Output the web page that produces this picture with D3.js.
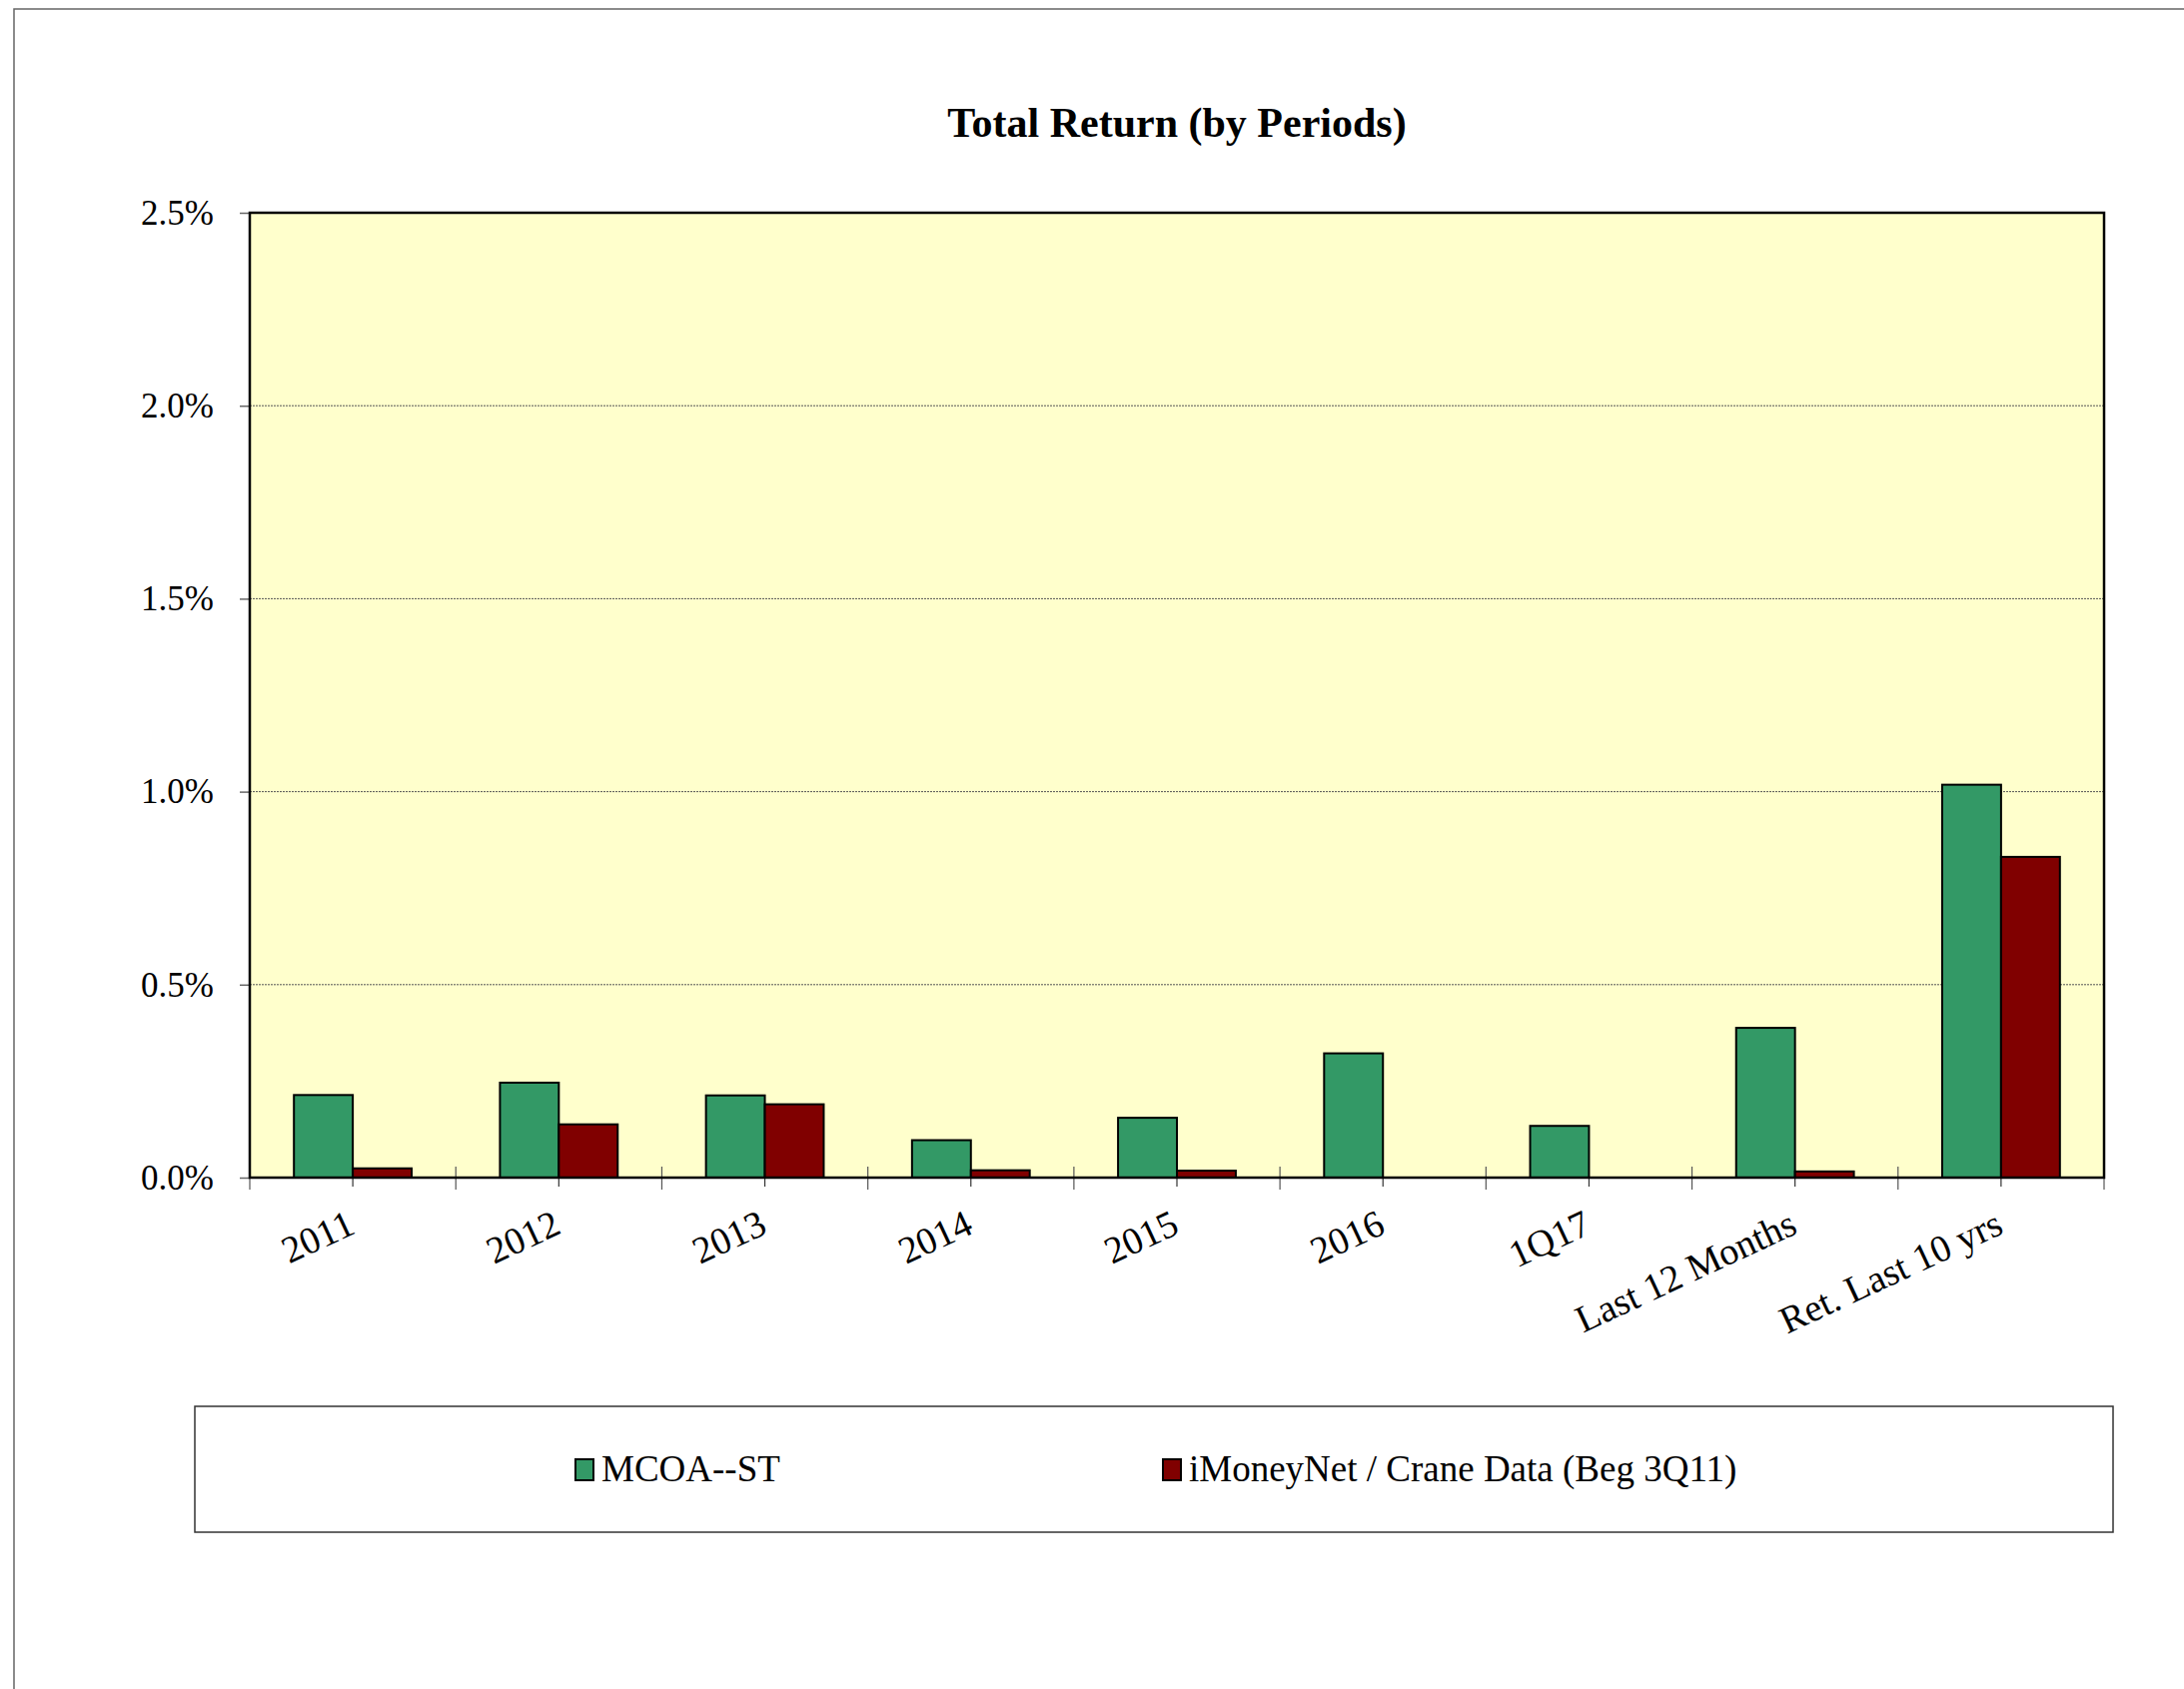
<!DOCTYPE html>
<html>
<head>
<meta charset="utf-8">
<script src="https://cdn.jsdelivr.net/npm/d3@7"></script>
<style>
  body { margin: 0; background: #fff; }
  svg { display: block; font-family: "Liberation Serif", "Times New Roman", serif; }
</style>
</head>
<body>
<svg width="2186" height="1691"></svg>
<script>
var categories = ["2011", "2012", "2013", "2014", "2015", "2016", "1Q17", "Last 12 Months", "Ret. Last 10 yrs"];
var seriesNames = ["MCOA--ST", "iMoneyNet / Crane Data (Beg 3Q11)"];
var mcoaValues = [0.214, 0.246, 0.213, 0.097, 0.155, 0.322, 0.134, 0.388, 1.018];
var craneValues = [0.024, 0.138, 0.190, 0.019, 0.018, 0, 0, 0.016, 0.831];
var yTicks = [0, 0.5, 1.0, 1.5, 2.0, 2.5];
var colors = ["#339966", "#800000"];

var svg = d3.select("svg"),
    width = +svg.attr("width"),
    height = +svg.attr("height");

var plot = { left: 250, right: 2106, top: 213, bottom: 1179 };

// outer frame (only top and left show in the picture)
svg.append("rect")
    .attr("x", 14).attr("y", 9)
    .attr("width", width + 20).attr("height", height + 20)
    .attr("fill", "none")
    .attr("stroke", "#666")
    .attr("stroke-width", 1.5);

svg.append("text")
    .attr("x", (plot.left + plot.right) / 2)
    .attr("y", 137)
    .attr("text-anchor", "middle")
    .attr("font-size", 42)
    .attr("font-weight", "bold")
    .text("Total Return (by Periods)");

var x = d3.scaleBand()
    .domain(categories)
    .range([plot.left, plot.right])
    .padding(0);

var xSub = d3.scaleBand()
    .domain([0, 1])
    .range([0, x.bandwidth()])
    .paddingInner(0)
    .paddingOuter(0.75);

var y = d3.scaleLinear()
    .domain([0, 2.5])
    .range([plot.bottom, plot.top]);

svg.append("rect")
    .attr("x", plot.left).attr("y", plot.top)
    .attr("width", plot.right - plot.left)
    .attr("height", plot.bottom - plot.top)
    .attr("fill", "#FFFFCC");

// gridlines
svg.append("g")
    .selectAll("line")
    .data(yTicks.filter(function (d) { return d > 0 && d < 2.5; }))
    .enter().append("line")
    .attr("x1", plot.left).attr("x2", plot.right)
    .attr("y1", function (d) { return y(d); })
    .attr("y2", function (d) { return y(d); })
    .attr("stroke", "#555")
    .attr("stroke-width", 1)
    .attr("stroke-dasharray", "2,1");

// bars
var rows = categories.map(function (c, i) {
    return { cat: c, vals: [mcoaValues[i], craneValues[i]] };
});

var groups = svg.append("g")
    .selectAll("g")
    .data(rows)
    .enter().append("g")
    .attr("transform", function (d) { return "translate(" + x(d.cat) + ",0)"; });

groups.selectAll("rect")
    .data(function (d) { return d.vals.map(function (v, k) { return { k: k, v: v }; }); })
    .enter().append("rect")
    .filter(function (d) { return d.v > 0; })
    .attr("x", function (d) { return xSub(d.k); })
    .attr("y", function (d) { return y(d.v); })
    .attr("width", xSub.bandwidth())
    .attr("height", function (d) { return y(0) - y(d.v); })
    .attr("fill", function (d) { return colors[d.k]; })
    .attr("stroke", "#000")
    .attr("stroke-width", 2);

// y axis
var yAxis = svg.append("g")
    .attr("transform", "translate(" + plot.left + ",0)")
    .call(d3.axisLeft(y)
        .tickValues(yTicks)
        .tickSize(10)
        .tickPadding(26)
        .tickFormat(function (d) { return d.toFixed(1) + "%"; }));
yAxis.select(".domain").remove();
yAxis.selectAll(".tick line").attr("stroke", "#666").attr("stroke-width", 1.5);
yAxis.selectAll("text")
    .attr("font-size", 35)
    .attr("font-family", "Liberation Serif, Times New Roman, serif")
    .attr("fill", "#000");

// x axis: short ticks at category centres, longer ticks at boundaries
var xAxis = svg.append("g")
    .attr("transform", "translate(0," + plot.bottom + ")")
    .call(d3.axisBottom(x).tickSize(9).tickFormat(""));
xAxis.select(".domain").remove();
xAxis.selectAll(".tick line").attr("stroke", "#333").attr("stroke-width", 1.2);

var bounds = categories.map(function (c) { return x(c); }).concat([x.range()[1]]);
svg.append("g")
    .selectAll("line")
    .data(bounds)
    .enter().append("line")
    .attr("x1", function (d) { return d; })
    .attr("x2", function (d) { return d; })
    .attr("y1", plot.bottom - 11)
    .attr("y2", plot.bottom + 12)
    .attr("stroke", "#555")
    .attr("stroke-width", 1.2);

svg.append("g")
    .selectAll("text")
    .data(categories)
    .enter().append("text")
    .attr("text-anchor", "end")
    .attr("font-size", 38)
    .attr("transform", function (d) {
        var cx = x(d) + x.bandwidth() / 2 + 4;
        return "translate(" + cx + "," + (plot.bottom + 55) + ") rotate(-25)";
    })
    .text(function (d) { return d; });

// plot border
svg.append("rect")
    .attr("x", plot.left).attr("y", plot.top)
    .attr("width", plot.right - plot.left)
    .attr("height", plot.bottom - plot.top)
    .attr("fill", "none")
    .attr("stroke", "#000")
    .attr("stroke-width", 2.5);

// legend
var legend = svg.append("g");
legend.append("rect")
    .attr("x", 195).attr("y", 1408)
    .attr("width", 1920).attr("height", 126)
    .attr("fill", "#fff")
    .attr("stroke", "#333")
    .attr("stroke-width", 1.5);

var legendX = [576, 1164];
var items = legend.selectAll("g.item")
    .data(seriesNames)
    .enter().append("g")
    .attr("class", "item")
    .attr("transform", function (d, i) { return "translate(" + legendX[i] + ",1461)"; });

items.append("rect")
    .attr("width", 18).attr("height", 21)
    .attr("fill", function (d, i) { return colors[i]; })
    .attr("stroke", "#000")
    .attr("stroke-width", 2);

items.append("text")
    .attr("x", 26)
    .attr("y", 22)
    .attr("font-size", 37)
    .text(function (d) { return d; });
</script>
</body>
</html>
